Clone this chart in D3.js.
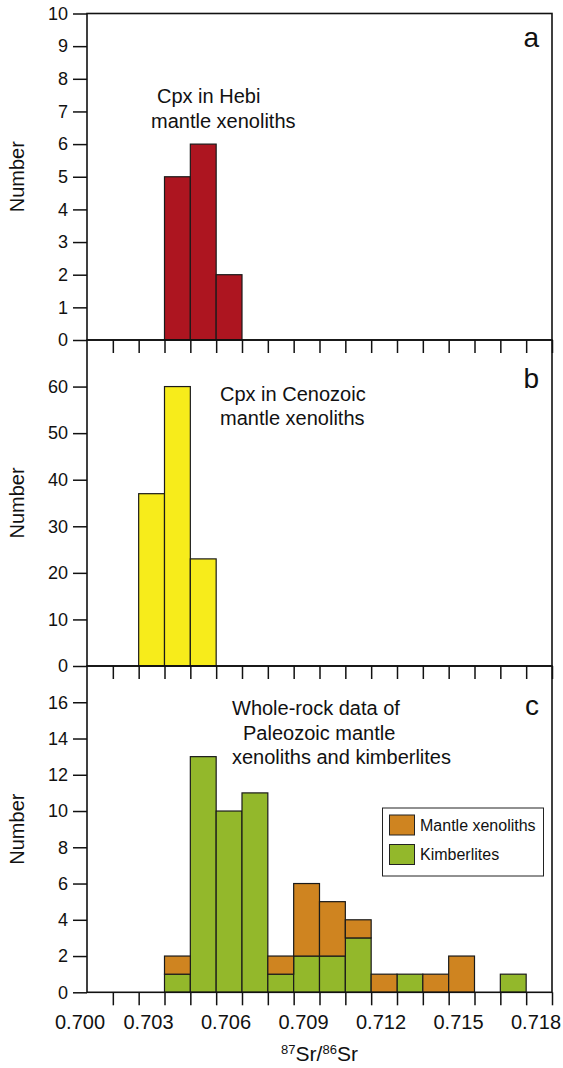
<!DOCTYPE html>
<html>
<head>
<meta charset="utf-8">
<script src="https://cdn.jsdelivr.net/npm/d3@7/dist/d3.min.js"></script>
<style>
  html, body { margin: 0; padding: 0; background: #fff; }
  svg { display: block; font-family: "Liberation Sans", Arial, Helvetica, sans-serif; }
</style>
</head>
<body>
<svg id="chart" width="563" height="1068"></svg>
<script>
// Histogram bins are 0.001 wide; each array holds bin start values and counts.
const xTickValues = [0.700, 0.701, 0.702, 0.703, 0.704, 0.705, 0.706, 0.707, 0.708,
                     0.709, 0.710, 0.711, 0.712, 0.713, 0.714, 0.715, 0.716, 0.717, 0.718];
const xTickLabels = ["0.700", "0.703", "0.706", "0.709", "0.712", "0.715", "0.718"];

// (a) Cpx in Hebi mantle xenoliths
const binsA = [0.703, 0.704, 0.705];
const countsA = [5, 6, 2];

// (b) Cpx in Cenozoic mantle xenoliths
const binsB = [0.702, 0.703, 0.704];
const countsB = [37, 60, 23];

// (c) Whole-rock data, stacked: kimberlites below, mantle xenoliths on top
const binsC = [0.703, 0.704, 0.705, 0.706, 0.707, 0.708, 0.709,
               0.710, 0.711, 0.712, 0.713, 0.714, 0.715, 0.716];
const kimberlites = [1, 13, 10, 11, 1, 2, 2, 3, 0, 1, 0, 0, 0, 1];
const mantleXenoliths = [1, 0, 0, 0, 1, 4, 3, 1, 1, 0, 1, 2, 0, 0];

const binWidth = 0.001;
const svg = d3.select("#chart");

const x = d3.scaleLinear().domain([0.700, 0.718]).range([87, 552]);

const panels = [
  { key: "a", top: 13.5, bottom: 340, yMax: 10, yTicks: d3.range(0, 11, 1),
    letter: { y: 47 }, notes: [
      { text: "Cpx in Hebi", x: 157, y: 103 },
      { text: "mantle xenoliths", x: 151, y: 128 }] },
  { key: "b", top: 340, bottom: 666, yMax: 70, yTicks: d3.range(0, 61, 10),
    letter: { y: 388 }, notes: [
      { text: "Cpx in Cenozoic", x: 220, y: 401 },
      { text: "mantle xenoliths", x: 220, y: 425 }] },
  { key: "c", top: 666, bottom: 992.3, yMax: 18, yTicks: d3.range(0, 17, 2),
    letter: { y: 715 }, notes: [
      { text: "Whole-rock data of", x: 232, y: 715 },
      { text: "Paleozoic mantle", x: 243, y: 740 },
      { text: "xenoliths and kimberlites", x: 232, y: 764 }] }
];

panels.forEach(p => {
  p.y = d3.scaleLinear().domain([0, p.yMax]).range([p.bottom, p.top]);
});

const colors = {
  a: "#ad1520",
  b: "#f7ec1b",
  xen: "#cf8420",
  kim: "#93b82b"
};

function drawBars(g, p, bins, lows, highs, fill) {
  g.selectAll(null)
    .data(bins.map((b, i) => ({ b, lo: lows[i], hi: highs[i] })).filter(d => d.hi > d.lo))
    .join("rect")
    .attr("x", d => x(d.b))
    .attr("width", d => x(d.b + binWidth) - x(d.b))
    .attr("y", d => p.y(d.hi))
    .attr("height", d => p.y(d.lo) - p.y(d.hi))
    .attr("fill", fill)
    .attr("stroke", "#1a1a1a")
    .attr("stroke-width", 1.2);
}

// Bars
const [pA, pB, pC] = panels;
drawBars(svg.append("g"), pA, binsA, countsA.map(() => 0), countsA, colors.a);
drawBars(svg.append("g"), pB, binsB, countsB.map(() => 0), countsB, colors.b);
const gC = svg.append("g");
drawBars(gC, pC, binsC, kimberlites.map(() => 0), kimberlites, colors.kim);
drawBars(gC, pC, binsC, kimberlites, kimberlites.map((k, i) => k + mantleXenoliths[i]), colors.xen);

// Axes, frames and labels
panels.forEach(p => {
  const g = svg.append("g");

  // y axis
  const ya = g.append("g")
    .attr("transform", `translate(${x.range()[0]},0)`)
    .call(d3.axisLeft(p.y).tickValues(p.yTicks).tickSize(14).tickPadding(5).tickFormat(d3.format("d")));
  ya.select(".domain").remove();
  ya.selectAll("line").attr("stroke", "#111").attr("stroke-width", 1.5);
  ya.selectAll("text").attr("font-size", 18).attr("fill", "#111")
    .attr("font-family", "Liberation Sans, Arial, sans-serif");

  // x ticks along the bottom of every panel
  const xa = g.append("g")
    .attr("transform", `translate(0,${p.bottom})`)
    .call(d3.axisBottom(x).tickValues(xTickValues.slice(1)).tickSize(13).tickFormat(""));
  xa.select(".domain").remove();
  xa.selectAll("line").attr("stroke", "#111").attr("stroke-width", 1.5);

  // frame
  g.append("rect")
    .attr("x", x.range()[0]).attr("y", p.top)
    .attr("width", x.range()[1] - x.range()[0])
    .attr("height", p.bottom - p.top)
    .attr("fill", "none").attr("stroke", "#111").attr("stroke-width", 1.6);

  // y title
  g.append("text")
    .attr("transform", `translate(24,${(p.top + p.bottom) / 2}) rotate(-90)`)
    .attr("text-anchor", "middle")
    .attr("font-size", 20).attr("fill", "#111")
    .text("Number");

  // panel letter
  g.append("text")
    .attr("x", 539).attr("y", p.letter.y)
    .attr("text-anchor", "end")
    .attr("font-size", 28).attr("fill", "#111")
    .text(p.key);

  // annotation
  g.selectAll(null).data(p.notes).join("text")
    .attr("x", d => d.x).attr("y", d => d.y)
    .attr("font-size", 20).attr("fill", "#111")
    .text(d => d.text);
});

// x tick labels under the bottom panel (set slightly left of their ticks;
// the first one is nudged right so it clears the y-axis labels)
svg.append("g").selectAll("text")
  .data(xTickLabels)
  .join("text")
  .attr("x", (d, i) => x(+d) + (i === 0 ? -7 : -16))
  .attr("y", 1029)
  .attr("text-anchor", "middle")
  .attr("font-size", 20).attr("fill", "#111")
  .text(d => d);

// x axis title: 87Sr/86Sr
const xt = svg.append("text")
  .attr("x", (x.range()[0] + x.range()[1]) / 2)
  .attr("y", 1061)
  .attr("text-anchor", "middle")
  .attr("font-size", 21).attr("fill", "#111");
xt.append("tspan").attr("font-size", 13).attr("dy", -7).text("87");
xt.append("tspan").attr("dy", 7).text("Sr/");
xt.append("tspan").attr("font-size", 13).attr("dy", -7).text("86");
xt.append("tspan").attr("dy", 7).text("Sr");

// Legend
const legendItems = [
  { label: "Mantle xenoliths", color: colors.xen },
  { label: "Kimberlites", color: colors.kim }
];
const lg = svg.append("g");
lg.append("rect")
  .attr("x", 382.5).attr("y", 808).attr("width", 161).attr("height", 68)
  .attr("fill", "#fff").attr("stroke", "#222").attr("stroke-width", 1);
legendItems.forEach((d, i) => {
  lg.append("rect")
    .attr("x", 389.5).attr("y", 815 + i * 29.5).attr("width", 25).attr("height", 20)
    .attr("fill", d.color).attr("stroke", "#222").attr("stroke-width", 1);
  lg.append("text")
    .attr("x", 420).attr("y", 830.5 + i * 29.5)
    .attr("font-size", 16).attr("fill", "#111")
    .text(d.label);
});
</script>
</body>
</html>
